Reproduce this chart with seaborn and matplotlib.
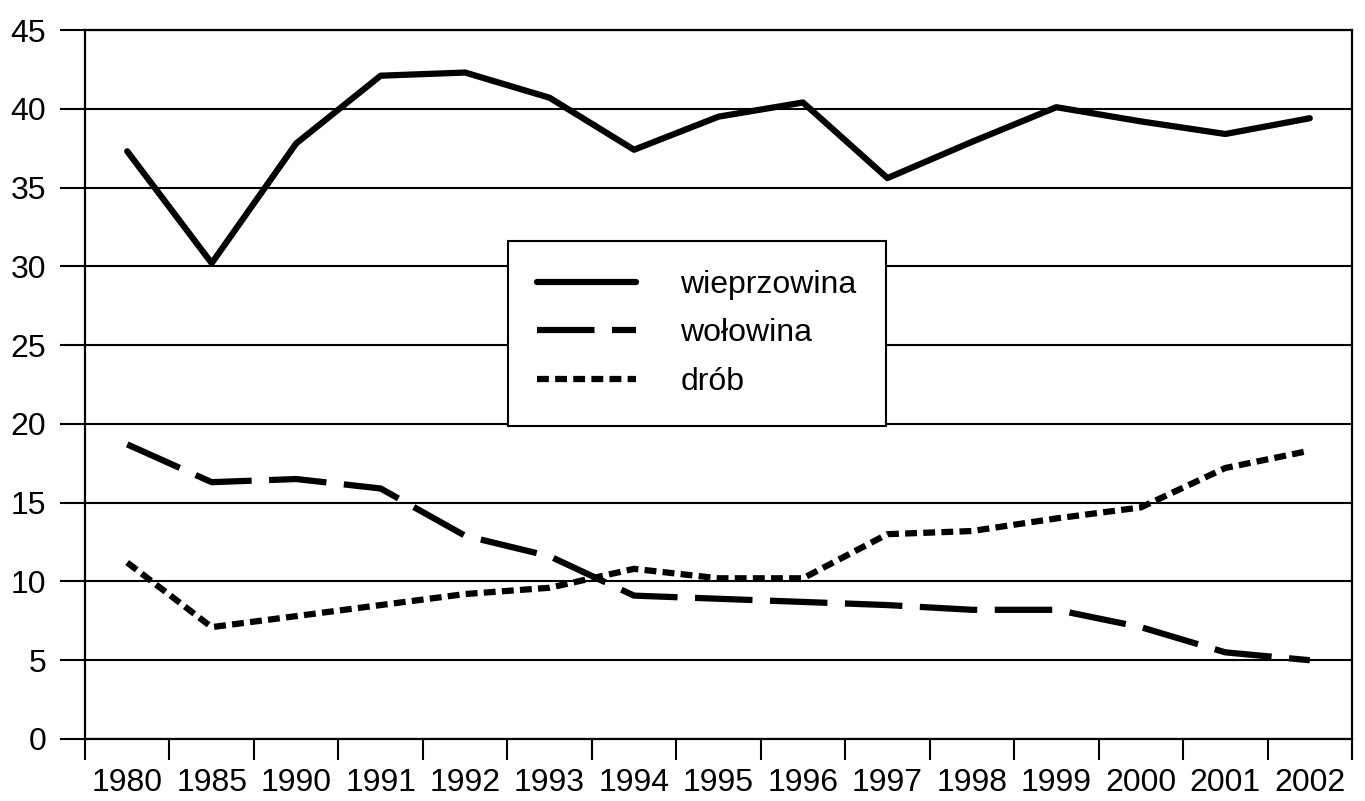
import numpy as np
import pandas as pd
import matplotlib
matplotlib.use("Agg")
import matplotlib.pyplot as plt
import seaborn as sns

# dane
lata = ["1980", "1985", "1990", "1991", "1992", "1993", "1994", "1995",
        "1996", "1997", "1998", "1999", "2000", "2001", "2002"]
wieprzowina = [37.3, 30.2, 37.8, 42.1, 42.3, 40.7, 37.4, 39.5, 40.4, 35.6,
               37.9, 40.1, 39.2, 38.4, 39.4]
wolowina = [18.7, 16.3, 16.5, 15.9, 12.9, 11.6, 9.1, 8.9, 8.7, 8.5,
            8.2, 8.2, 7.1, 5.5, 5.0]
drob = [11.2, 7.1, 7.8, 8.5, 9.2, 9.6, 10.8, 10.2, 10.2, 13.0,
        13.2, 14.0, 14.7, 17.2, 18.3]
serie = ["wieprzowina", "wołowina", "drób"]
y_ticks = [0, 5, 10, 15, 20, 25, 30, 35, 40, 45]

poz = np.arange(len(lata))
df = pd.concat([
    pd.DataFrame({"poz": poz, "wartosc": wieprzowina, "seria": serie[0]}),
    pd.DataFrame({"poz": poz, "wartosc": wolowina, "seria": serie[1]}),
    pd.DataFrame({"poz": poz, "wartosc": drob, "seria": serie[2]}),
])

sns.set_style("white", {"text.color": "black", "xtick.color": "black",
                        "ytick.color": "black", "axes.edgecolor": "black"})
plt.rcParams["font.family"] = ["Liberation Sans", "DejaVu Sans"]

fig = plt.figure(figsize=(13.65, 8.01), dpi=100)
ax = fig.add_axes([85 / 1365, 62 / 801, (1352 - 85) / 1365, (739 - 30) / 801])

style_dashes = {"wieprzowina": "", "wołowina": (9.2, 2.8), "drób": (1.9, 1.0)}
sns.lineplot(data=df, x="poz", y="wartosc", style="seria", style_order=serie,
             dashes=style_dashes, color="black", linewidth=4.5, ax=ax,
             legend=False, sort=False)

ax.set_xlim(-0.5, len(lata) - 0.5)
ax.set_ylim(0, 45)
ax.set_yticks(y_ticks)
ax.set_xticks(poz)
ax.set_xticklabels(lata)
ax.set_xticks(np.arange(-0.5, len(lata)), minor=True)
ax.set_xlabel("")
ax.set_ylabel("")

ax.yaxis.grid(True, color="black", linewidth=1.5)
ax.xaxis.grid(False)
for s in ax.spines.values():
    s.set_color("black")
    s.set_linewidth(1.6)

ax.tick_params(axis="y", which="major", left=True, length=18, width=1.5,
               color="black", labelcolor="black", labelsize=23, pad=10)
ax.tick_params(axis="x", which="major", bottom=True, length=0,
               labelcolor="black", labelsize=23, pad=21)
ax.tick_params(axis="x", which="minor", bottom=True, length=15, width=1.5,
               color="black", direction="out")

leg = ax.legend(handles=ax.get_lines()[:3], labels=serie, loc="upper left",
                bbox_to_anchor=(508 / 1365, 1 - 241 / 801),
                bbox_transform=fig.transFigure, fontsize=23, frameon=True,
                fancybox=False, framealpha=1, borderpad=0.9, borderaxespad=0,
                handlelength=3.1, handletextpad=1.4, labelspacing=0.58)
leg.get_frame().set_edgecolor("black")
leg.get_frame().set_linewidth(1.5)
for t in leg.get_texts():
    t.set_color("black")

fig.savefig("out.png", dpi=100)
